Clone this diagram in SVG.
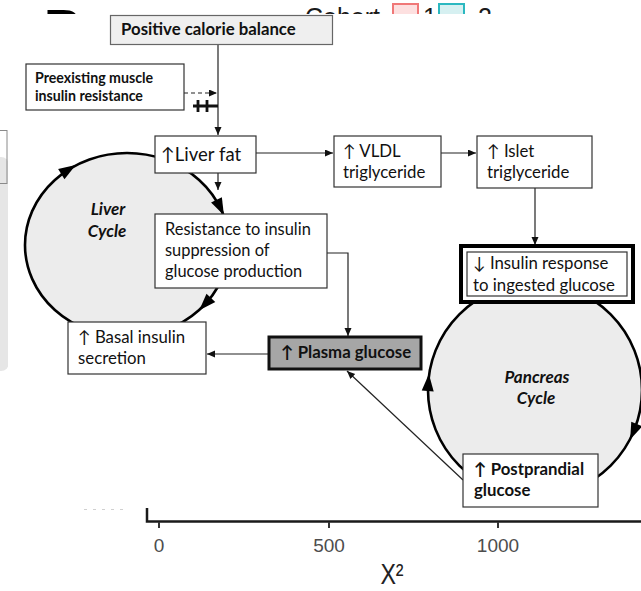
<svg xmlns="http://www.w3.org/2000/svg" width="641" height="591" viewBox="0 0 641 591">
<style>
.box{fill:#fff;stroke:#333;stroke-width:1.2}
.t{font-family:Lato,"DejaVu Sans",sans-serif;font-size:16.8px;fill:#111}
.b{font-weight:bold}
.cyc{font-family:Lato,"DejaVu Sans",sans-serif;font-size:17px;font-weight:bold;font-style:italic;fill:#111;text-anchor:middle}
.con{fill:none;stroke:#222;stroke-width:1.2}
.ring{fill:#ececec;stroke:#000;stroke-width:2.6}
.ah{fill:#000}
.ax{font-family:"Liberation Sans",Arial,sans-serif;font-size:19px;fill:#4d4d4d;text-anchor:middle}
.leg{font-family:"Liberation Sans",Arial,sans-serif;font-size:25px;fill:#1a1a1a}
</style>
<defs>
<marker id="arr" markerUnits="userSpaceOnUse" markerWidth="9" markerHeight="8" refX="8" refY="3.5" orient="auto">
<path d="M0,0 L8,3.5 L0,7 z" fill="#111"/>
</marker>
<path id="cah" d="M8.5,0 L-8.5,-6 L-8.5,6 Z"/>
</defs>
<rect width="641" height="591" fill="#fff"/>
<g id="background">
<text x="44" y="46" font-family="Liberation Sans,Arial,sans-serif" font-size="52" font-weight="bold" fill="#000">B</text>
<text class="leg" x="305" y="26">Cohort</text>
<rect x="393" y="4" width="25" height="26" fill="#fde0e0" stroke="#f07878" stroke-width="2"/>
<text class="leg" x="423" y="26">1</text>
<rect x="439" y="4" width="25" height="26" fill="#d6f0f1" stroke="#2bb8c0" stroke-width="2"/>
<text class="leg" x="478" y="26">2</text>
<rect x="-12" y="157" width="21" height="214" rx="8" fill="#e6e6e6"/>
<rect x="-6" y="130.5" width="13" height="53" fill="none" stroke="#8a8a8a" stroke-width="1"/>
</g>
<rect x="8" y="14" width="633" height="494" fill="#fff"/>
<g id="axis">
<path d="M147,508 V521.5 H641" fill="none" stroke="#1a1a1a" stroke-width="2.5"/>
<path d="M159,522 V528 M329,522 V528 M498,522 V528" stroke="#333" stroke-width="2"/>
<path d="M84,509.5 H128" stroke="#d0d0d0" stroke-width="1" stroke-dasharray="3,6"/>
<text class="ax" x="159" y="552">0</text>
<text class="ax" x="329" y="552">500</text>
<text class="ax" x="498" y="552">1000</text>
<text class="ax" transform="translate(392,584) scale(0.8,1)" x="0" y="0" style="font-size:29px;fill:#222">X²</text>
</g>
<g id="liver-cycle">
<ellipse class="ring" cx="127" cy="245" rx="102" ry="92"/>
<use href="#cah" class="ah" transform="translate(68.5,169.6) rotate(-32)"/>
<use href="#cah" class="ah" transform="translate(220.2,207.6) rotate(64)"/>
<use href="#cah" class="ah" transform="translate(205.1,304.1) rotate(133)"/>
<text class="cyc" x="108" y="215">Liver</text>
<text class="cyc" x="107" y="237">Cycle</text>
</g>
<g id="pancreas-cycle">
<circle class="ring" cx="535" cy="390" r="107"/>
<use href="#cah" class="ah" transform="translate(428.3,382.5) rotate(-86)"/>
<use href="#cah" class="ah" transform="translate(633.5,431.8) rotate(113)"/>
<text class="cyc" x="537" y="383">Pancreas</text>
<text class="cyc" x="536" y="404">Cycle</text>
</g>
<g id="connectors">
<path class="con" d="M218,45 V135" marker-end="url(#arr)"/>
<path class="con" d="M184,93 H217" stroke-dasharray="4,3" marker-end="url(#arr)"/>
<path d="M193,106 H218 M198,100 V112 M207,100 V112" stroke="#111" stroke-width="2.8" fill="none"/>
<path class="con" d="M218,173 V190" marker-end="url(#arr)"/>
<path class="con" d="M256,153 H333" marker-end="url(#arr)"/>
<path class="con" d="M441,153 H476" marker-end="url(#arr)"/>
<path class="con" d="M535,188 V245" marker-end="url(#arr)"/>
<path class="con" d="M327,253 H348 V336" marker-end="url(#arr)"/>
<path class="con" d="M269,354 H207" marker-end="url(#arr)"/>
<path class="con" d="M463,480 L347,371" marker-end="url(#arr)"/>
</g>
<g id="positive-calorie-balance">
<rect x="110.5" y="15.5" width="222" height="29" fill="#efefef" stroke="#666" stroke-width="1.2"/>
<text class="t b" x="121" y="35" style="font-size:16.8px">Positive calorie balance</text>
</g>
<g id="preexisting-muscle-insulin-resistance">
<rect class="box" x="26" y="64" width="158" height="46"/>
<text class="t b" x="35" y="83" style="font-size:14.2px">Preexisting muscle</text>
<text class="t b" x="35" y="101" style="font-size:14.2px">insulin resistance</text>
</g>
<g id="liver-fat">
<rect class="box" x="155" y="136" width="101" height="37"/>
<text class="t" x="161" y="161" style="font-size:18.5px">↑Liver fat</text>
</g>
<g id="vldl-triglyceride">
<rect class="box" x="334" y="136" width="107" height="51"/>
<text class="t" x="343" y="157">↑ VLDL</text>
<text class="t" x="343" y="178">triglyceride</text>
</g>
<g id="islet-triglyceride">
<rect class="box" x="477" y="136" width="115" height="52"/>
<text class="t" x="487" y="157">↑ Islet</text>
<text class="t" x="487" y="178">triglyceride</text>
</g>
<g id="resistance-to-insulin">
<rect class="box" x="155" y="214" width="172" height="74"/>
<text class="t" x="165" y="235" style="font-size:16.4px">Resistance to insulin</text>
<text class="t" x="165" y="256" style="font-size:16.4px">suppression of</text>
<text class="t" x="165" y="277" style="font-size:16.4px">glucose production</text>
</g>
<g id="insulin-response">
<rect x="461" y="246" width="172" height="56" fill="#fff" stroke="#000" stroke-width="4"/>
<rect x="467" y="252" width="160" height="44" fill="none" stroke="#333" stroke-width="1.2"/>
<text class="t" x="473" y="269">↓ Insulin response</text>
<text class="t" x="473" y="291">to ingested glucose</text>
</g>
<g id="basal-insulin-secretion">
<rect class="box" x="68" y="322" width="138" height="52"/>
<text class="t" x="78" y="343">↑ Basal insulin</text>
<text class="t" x="78" y="364">secretion</text>
</g>
<g id="plasma-glucose">
<rect x="269" y="337" width="152" height="32" fill="#a6a6a6" stroke="#111" stroke-width="3"/>
<text class="t b" x="281" y="358">↑ Plasma glucose</text>
</g>
<g id="postprandial-glucose">
<rect class="box" x="463" y="454" width="135" height="53"/>
<text class="t b" x="474" y="475">↑ Postprandial</text>
<text class="t b" x="474" y="496">glucose</text>
</g>
</svg>
